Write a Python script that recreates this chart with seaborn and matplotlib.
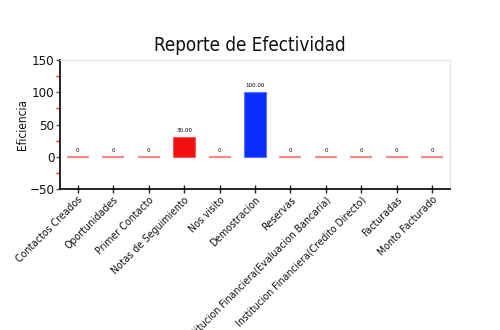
import matplotlib
matplotlib.use("Agg")
import matplotlib.pyplot as plt
from matplotlib.ticker import MultipleLocator
import seaborn as sns
import pandas as pd

categories = [
    "Contactos Creados", "Oportunidades", "Primer Contacto", "Notas de Seguimiento",
    "Nos visito", "Demostracion", "Reservas",
    "Institucion Financiera(Evaluacion Bancaria)",
    "Institucion Financiera(Credito Directo)", "Facturadas", "Monto Facturado",
]
eficiencia = [0, 0, 0, 30, 0, 100, 0, 0, 0, 0, 0]
bar_colors = ["#f48a8a", "#f48a8a", "#f48a8a", "#f20f0f", "#f48a8a", "#0a2dfc",
              "#f48a8a", "#f48a8a", "#f48a8a", "#f48a8a", "#f48a8a"]
edge_colors = ["#f48a8a", "#f48a8a", "#f48a8a", "#f55a5a", "#f48a8a", "#5a78ff",
               "#f48a8a", "#f48a8a", "#f48a8a", "#f48a8a", "#f48a8a"]

sns.set_theme(style="white")
plt.rcParams["font.family"] = ["DejaVu Sans"]
plt.rcParams["font.stretch"] = "condensed"

df = pd.DataFrame({"categoria": categories, "eficiencia": eficiencia})

fig = plt.figure(figsize=(5, 3.3), dpi=100)
ax = fig.add_axes([0.12, 0.427, 0.78, 0.391])

sns.barplot(data=df, x="categoria", y="eficiencia", hue="categoria",
            palette=bar_colors, legend=False, width=0.62, saturation=1, ax=ax)

for patch, ec, v in zip(ax.patches, edge_colors, eficiencia):
    patch.set_edgecolor(ec)
    patch.set_linewidth(1.6 if v == 0 else 0.8)
    label = "0" if v == 0 else f"{v:.2f}"
    ax.annotate(label, (patch.get_x() + patch.get_width() / 2, v),
                xytext=(0, 3), textcoords="offset points",
                ha="center", va="bottom", fontsize=4.5, color="black")

ax.set_ylim(-50, 150)
ax.set_xlim(-0.5, len(categories) - 0.5)
ax.yaxis.set_major_locator(MultipleLocator(50))
ax.yaxis.set_minor_locator(MultipleLocator(25))
ax.tick_params(axis="y", which="major", left=True, length=3, width=1,
               color="#555555", labelsize=9.5, pad=1, labelcolor="#111111")
ax.tick_params(axis="y", which="minor", left=True, length=3, width=1, color="#ff2222")
ax.tick_params(axis="x", which="major", bottom=True, direction="inout", length=6,
               width=1, color="#222222", labelsize=7.6, pad=1, labelcolor="#111111")

ax.set_xticks(range(len(categories)))
ax.set_xticklabels(categories, rotation=45, ha="right", rotation_mode="anchor")

ax.set_xlabel("")
ax.set_ylabel("Eficiencia", fontsize=8.5, labelpad=0, color="#111111")

for side in ("left", "bottom"):
    ax.spines[side].set_color("black")
    ax.spines[side].set_linewidth(1.2)
for side in ("top", "right"):
    ax.spines[side].set_color("#e4e4e4")
    ax.spines[side].set_linewidth(0.8)

fig.text(0.5, 0.845, "Reporte de Efectividad", ha="center", va="baseline",
         fontsize=13.5, color="#111111")

fig.savefig("out.png", dpi=100)
